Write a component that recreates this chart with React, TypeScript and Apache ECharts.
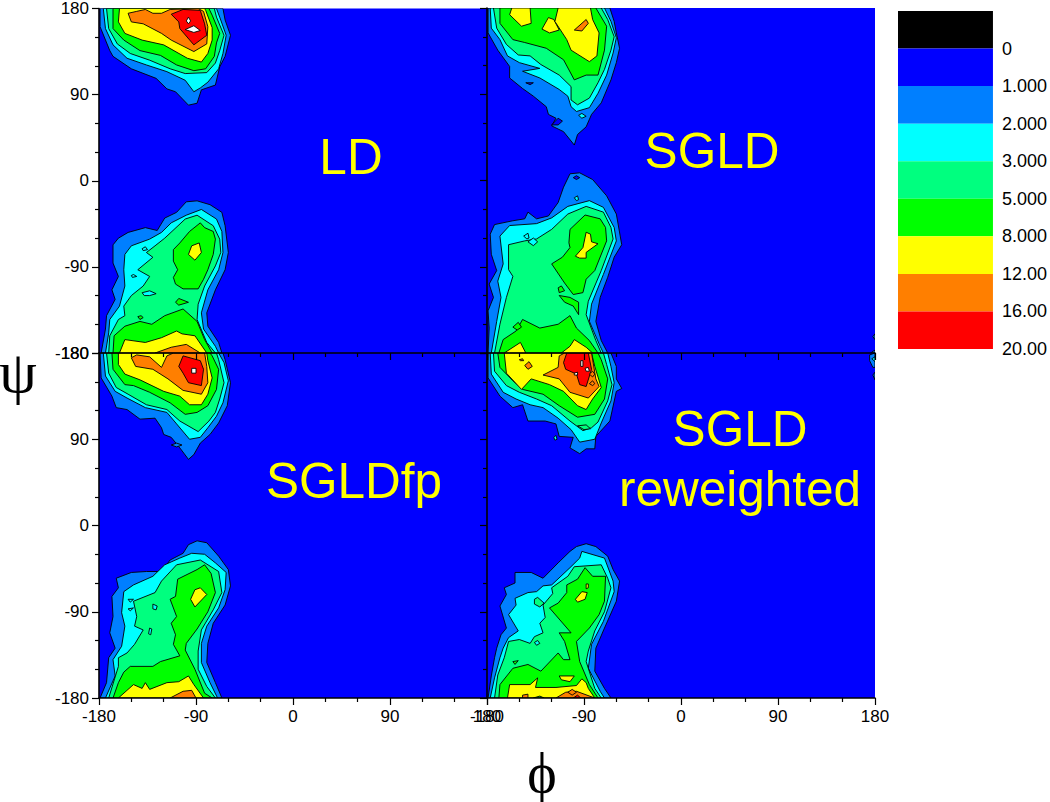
import React, { useEffect, useRef } from "react";
import * as echarts from "echarts";

type Poly = [number, number[][]];

const levelLabels = ["0", "1.000", "2.000", "3.000", "5.000", "8.000", "12.00", "16.00", "20.00"];
const levelValues = [0, 1, 2, 3, 5, 8, 12, 16, 20];
const legendColors = ["#000000", "#0000ff", "#007fff", "#00ffff", "#00ff7f", "#00ff00", "#ffff00", "#ff7f00", "#ff0000"];
const xTickLabels = [-180, -90, 0, 90, 180];

// Contour outlines, [level, [[phi, psi], ...]] in degrees.
const ldPoly: Poly[] = [
  [1, [[-179,180],[-179,161],[-170,136],[-167,130],[-150,117],[-127,107],[-117,96],[-109,93],[-97,79],[-89,81],[-85,95],[-72,100],[-68,119],[-63,130],[-58,152],[-63,168],[-65,180]]],
  [2, [[-176,180],[-174,159],[-167,142],[-154,128],[-136,121],[-117,114],[-100,105],[-92,93],[-86,97],[-79,103],[-69,117],[-65,133],[-62,152],[-68,171],[-71,180]]],
  [3, [[-173,180],[-171,159],[-163,143],[-151,133],[-133,126],[-114,117],[-100,112],[-80,113],[-72,123],[-68,136],[-64,152],[-71,171],[-73,180]]],
  [5, [[-167,180],[-167,159],[-157,147],[-142,136],[-123,131],[-108,121],[-92,115],[-81,117],[-73,130],[-71,144],[-68,154],[-75,173],[-78,180]]],
  [8, [[-161,180],[-162,166],[-156,154],[-140,147],[-120,142],[-98,128],[-85,124],[-79,133],[-75,147],[-75,160],[-81,178],[-82,180]]],
  [12, [[-153,175],[-150,166],[-139,164],[-122,154],[-113,147],[-92,135],[-80,143],[-79,161],[-83,177],[-88,180],[-114,179],[-122,175],[-130,175],[-137,179],[-145,177]]],
  [16, [[-113,174],[-106,166],[-105,159],[-92,142],[-80,152],[-82,164],[-86,178],[-102,179]]],
  [20, [[-97,171],[-95,167],[-97,164],[-99,167]]],
  [20, [[-100,158],[-92,162],[-86,157],[-92,155]]],
  // lower lobe
  [1, [[-178,-180],[-174,-155],[-173,-141],[-165,-124],[-168,-114],[-162,-100],[-167,-86],[-167,-67],[-162,-60],[-153,-54],[-137,-49],[-126,-52],[-119,-39],[-108,-33],[-99,-22],[-89,-21],[-77,-25],[-66,-33],[-63,-47],[-60,-75],[-63,-93],[-72,-114],[-80,-138],[-79,-152],[-69,-169],[-66,-180]]],
  [2, [[-174,-180],[-171,-159],[-170,-145],[-161,-131],[-156,-110],[-157,-93],[-156,-77],[-150,-68],[-133,-61],[-122,-54],[-113,-44],[-99,-36],[-85,-30],[-71,-40],[-66,-53],[-65,-75],[-69,-93],[-79,-114],[-85,-138],[-83,-155],[-72,-173],[-69,-180]]],
  [3, [[-171,-180],[-170,-162],[-162,-145],[-156,-141],[-157,-131],[-150,-120],[-139,-110],[-133,-100],[-144,-93],[-130,-80],[-136,-75],[-128,-68],[-119,-60],[-100,-40],[-89,-36],[-74,-47],[-68,-61],[-67,-75],[-72,-89],[-82,-110],[-88,-129],[-89,-145],[-80,-169],[-72,-180]]],
  [5, [[-167,-180],[-166,-162],[-156,-152],[-142,-147],[-131,-150],[-119,-141],[-102,-134],[-89,-147],[-82,-166],[-75,-180]]],
  [5, [[-111,-84],[-111,-72],[-105,-65],[-96,-53],[-86,-44],[-82,-49],[-74,-53],[-72,-61],[-74,-77],[-79,-93],[-83,-103],[-88,-113],[-102,-113],[-109,-108],[-111,-101],[-107,-93]]],
  [5, [[-109,-127],[-106,-123],[-97,-127],[-106,-130]]],
  [8, [[-161,-180],[-156,-166],[-137,-169],[-122,-164],[-108,-157],[-103,-160],[-91,-162],[-80,-180]]],
  [8, [[-97,-77],[-94,-68],[-87,-65],[-85,-75],[-91,-83]]],
  [12, [[-128,-180],[-113,-174],[-99,-171],[-86,-180]]],
  [2, [[-140,-71],[-137,-69],[-135,-72],[-139,-73]]],
  [2, [[-150,-99],[-148,-98],[-145,-100],[-149,-101]]],
  [2, [[-140,-117],[-133,-115],[-127,-118],[-133,-120],[-138,-120]]],
  [5, [[-144,-142],[-141,-141],[-139,-143],[-142,-145]]],
];

const sgldPoly: Poly[] = [
  [1, [[-179,180],[-179,154],[-170,136],[-159,119],[-159,107],[-147,96],[-137,88],[-125,77],[-123,69],[-116,65],[-120,57],[-109,51],[-99,37],[-96,48],[-88,56],[-83,69],[-74,81],[-65,105],[-60,123],[-57,138],[-60,154],[-62,166],[-66,180]]],
  [2, [[-177,180],[-176,159],[-168,147],[-161,130],[-150,123],[-131,117],[-147,114],[-131,107],[-113,95],[-105,88],[-102,77],[-97,72],[-85,76],[-77,91],[-69,110],[-63,133],[-60,149],[-65,166],[-71,180]]],
  [3, [[-174,180],[-171,159],[-162,142],[-151,131],[-140,130],[-130,121],[-113,110],[-102,98],[-102,84],[-96,79],[-85,86],[-77,102],[-71,116],[-65,136],[-62,150],[-68,168],[-74,180]]],
  [5, [[-168,180],[-168,164],[-156,147],[-145,144],[-125,138],[-109,126],[-99,105],[-88,110],[-77,110],[-71,136],[-69,161],[-79,180]]],
  [8, [[-157,180],[-159,173],[-148,161],[-139,164],[-140,180]]],
  [8, [[-123,170],[-118,168],[-113,157],[-122,154],[-129,158]]],
  [8, [[-114,180],[-117,166],[-106,147],[-102,136],[-85,124],[-78,130],[-76,154],[-82,168],[-84,180]]],
  [12, [[-99,157],[-88,168],[-86,164],[-92,156]]],
  [0, [[-120,58],[-114,65],[-110,62],[-114,58]]],
  [0, [[-144,102],[-137,102],[-140,100]]],
  [2, [[-95,68],[-92,70],[-88,67],[-92,65]]],
  // lower lobe
  [1, [[-179,-180],[-178,-154],[-179,-136],[-174,-122],[-178,-108],[-171,-94],[-176,-77],[-177,-56],[-173,-46],[-156,-42],[-145,-40],[-142,-33],[-134,-40],[-123,-37],[-114,-23],[-109,-7],[-103,7],[-94,8],[-82,1],[-69,-16],[-60,-35],[-55,-67],[-62,-80],[-68,-101],[-75,-122],[-79,-147],[-74,-167],[-68,-180]]],
  [2, [[-176,-180],[-171,-147],[-167,-122],[-170,-105],[-165,-87],[-168,-58],[-159,-47],[-134,-45],[-120,-39],[-105,-27],[-85,-21],[-72,-28],[-62,-49],[-60,-63],[-72,-98],[-83,-129],[-85,-147],[-75,-173],[-72,-180]]],
  [3, [[-173,-180],[-168,-150],[-162,-122],[-156,-100],[-160,-93],[-160,-67],[-145,-63],[-134,-61],[-120,-51],[-105,-35],[-88,-27],[-72,-33],[-65,-49],[-63,-61],[-74,-94],[-86,-126],[-88,-140],[-79,-167],[-74,-180]]],
  [5, [[-169,-180],[-165,-166],[-153,-157],[-147,-145],[-131,-154],[-114,-150],[-103,-141],[-97,-154],[-85,-167],[-77,-180]]],
  [5, [[-104,-65],[-103,-51],[-89,-36],[-75,-40],[-70,-49],[-69,-63],[-80,-94],[-88,-103],[-91,-117],[-100,-119],[-108,-107],[-120,-87],[-110,-80],[-103,-70]]],
  [5, [[-113,-120],[-103,-122],[-95,-127],[-95,-140],[-100,-131],[-108,-127]]],
  [5, [[-156,-153],[-151,-148],[-148,-153],[-152,-156]]],
  [5, [[-114,-112],[-111,-110],[-108,-115],[-113,-117]]],
  [8, [[-164,-180],[-149,-169],[-144,-180]]],
  [8, [[-111,-180],[-103,-173],[-99,-166],[-88,-174],[-82,-180]]],
  [8, [[-98,-79],[-91,-70],[-88,-54],[-84,-56],[-83,-64],[-77,-66],[-88,-75],[-88,-81],[-94,-81]]],
  [2, [[-146,-58],[-142,-55],[-141,-60],[-143,-61]]],
  [2, [[-142,-64],[-137,-60],[-133,-64],[-137,-68]]],
  [0, [[-100,3],[-97,5],[-94,3],[-97,1]]],
  [2, [[-99,-18],[-96,-16],[-95,-20],[-97,-21]]],
  [1, [[180,-177],[177,-179],[177,-180],[180,-180]]],
  [1, [[180,-160],[178,-163],[180,-166]]],
];

const sgldfpPoly: Poly[] = [
  [1, [[-179,180],[-178,154],[-168,135],[-164,123],[-154,121],[-142,111],[-128,112],[-122,102],[-120,95],[-113,92],[-105,81],[-97,69],[-92,74],[-86,86],[-77,95],[-69,107],[-61,125],[-58,149],[-63,173],[-65,180]]],
  [1, [[-113,84],[-108,86],[-103,84],[-108,82]]],
  [2, [[-176,180],[-174,156],[-165,140],[-154,133],[-137,123],[-117,118],[-108,106],[-96,90],[-86,92],[-79,102],[-71,114],[-65,128],[-60,151],[-64,170],[-69,180]]],
  [3, [[-173,180],[-171,159],[-164,144],[-153,137],[-136,126],[-117,121],[-105,109],[-88,98],[-78,109],[-72,118],[-68,132],[-64,149],[-69,173],[-71,180]]],
  [5, [[-168,180],[-167,163],[-156,147],[-148,146],[-133,139],[-114,128],[-100,116],[-89,118],[-79,125],[-71,142],[-69,163],[-75,177],[-77,180]]],
  [8, [[-162,180],[-162,168],[-156,158],[-142,152],[-120,140],[-105,135],[-96,126],[-85,126],[-79,137],[-75,154],[-79,172],[-80,180]]],
  [12, [[-150,175],[-146,166],[-130,163],[-116,153],[-102,141],[-85,137],[-79,149],[-80,166],[-82,180],[-111,180],[-117,177],[-122,165],[-128,171],[-133,176],[-145,178]]],
  [16, [[-106,166],[-102,177],[-86,172],[-83,163],[-85,146],[-97,149],[-102,159]]],
  [20, [[-94,164],[-90,164],[-90,159],[-94,159]]],
  // lower lobe
  [1, [[-179,-180],[-173,-164],[-171,-138],[-165,-128],[-170,-112],[-167,-95],[-168,-74],[-162,-65],[-164,-55],[-150,-49],[-136,-48],[-122,-48],[-114,-36],[-102,-29],[-97,-20],[-89,-16],[-80,-18],[-69,-32],[-60,-46],[-58,-63],[-63,-83],[-74,-102],[-79,-123],[-80,-143],[-72,-164],[-66,-180]]],
  [2, [[-174,-180],[-165,-157],[-167,-140],[-159,-126],[-156,-105],[-159,-91],[-157,-69],[-148,-62],[-130,-53],[-119,-41],[-105,-34],[-94,-29],[-82,-30],[-72,-39],[-62,-49],[-63,-67],[-69,-86],[-80,-105],[-85,-123],[-85,-143],[-77,-164],[-70,-180]]],
  [3, [[-171,-180],[-162,-147],[-162,-138],[-154,-133],[-147,-124],[-139,-109],[-147,-105],[-145,-95],[-148,-79],[-128,-70],[-122,-58],[-108,-41],[-86,-36],[-69,-48],[-66,-70],[-74,-88],[-85,-109],[-88,-131],[-88,-150],[-80,-168],[-72,-180]]],
  [5, [[-167,-180],[-162,-164],[-157,-153],[-151,-147],[-130,-147],[-123,-142],[-105,-136],[-111,-124],[-109,-114],[-113,-102],[-108,-95],[-114,-77],[-109,-74],[-107,-56],[-89,-46],[-82,-41],[-76,-50],[-72,-70],[-79,-90],[-89,-108],[-99,-123],[-100,-130],[-91,-150],[-82,-175],[-75,-180]]],
  [8, [[-162,-180],[-148,-166],[-140,-170],[-137,-164],[-133,-171],[-117,-164],[-106,-163],[-97,-157],[-92,-166],[-83,-180]]],
  [8, [[-95,-77],[-91,-67],[-86,-65],[-80,-72],[-91,-85]]],
  [12, [[-114,-180],[-102,-173],[-94,-172],[-90,-180]]],
  [2, [[-153,-77],[-148,-77],[-151,-80]]],
  [2, [[-153,-87],[-148,-86],[-151,-89]]],
  [2, [[-130,-82],[-126,-84],[-127,-88],[-130,-87]]],
  [2, [[-133,-107],[-131,-108],[-132,-114],[-134,-113]]],
];

const reweightedPoly: Poly[] = [
  [1, [[-179,180],[-179,154],[-168,135],[-156,123],[-147,126],[-142,109],[-126,109],[-116,106],[-113,93],[-100,92],[-103,81],[-94,75],[-88,80],[-80,80],[-79,93],[-66,109],[-60,140],[-55,143],[-60,153],[-60,166],[-65,180]]],
  [2, [[-177,180],[-176,158],[-165,139],[-153,132],[-140,126],[-128,123],[-114,112],[-102,100],[-94,87],[-80,90],[-74,107],[-65,130],[-62,149],[-65,166],[-68,180]]],
  [3, [[-174,180],[-173,161],[-162,146],[-150,139],[-134,132],[-120,125],[-103,109],[-91,99],[-83,102],[-77,108],[-68,130],[-64,147],[-69,168],[-72,180]]],
  [5, [[-170,180],[-168,165],[-156,151],[-147,142],[-128,137],[-113,125],[-96,113],[-80,116],[-71,132],[-68,153],[-74,173],[-77,180]]],
  [8, [[-164,180],[-162,159],[-148,142],[-139,153],[-122,147],[-109,140],[-96,125],[-88,121],[-82,132],[-74,144],[-80,166],[-83,180]]],
  [12, [[-128,157],[-114,165],[-113,177],[-108,180],[-83,180],[-79,153],[-76,145],[-86,133],[-103,139],[-113,153]]],
  [16, [[-109,170],[-106,180],[-86,180],[-83,163],[-88,145],[-94,147],[-97,158],[-107,163]]],
  [12, [[-85,158],[-82,161],[-80,158],[-82,155]]],
  [12, [[-85,148],[-82,151],[-80,148],[-82,146]]],
  [12, [[-145,167],[-141,171],[-138,166],[-142,163]]],
  [12, [[-150,173],[-147,174],[-146,172],[-149,172]]],
  [20, [[-93,172],[-91,172],[-91,166],[-93,166]]],
  [20, [[-99,159],[-96,160],[-96,157],[-99,157]]],
  [20, [[-89,164],[-86,165],[-85,161],[-88,161]]],
  [3, [[-96,104],[-88,105],[-84,101],[-90,100]]],
  [2, [[-118,92],[-116,94],[-115,90],[-117,89]]],
  [1, [[180,180],[175,178],[175,172],[178,165],[180,165]]],
  [2, [[180,176],[177,174],[180,171]]],
  [1, [[180,160],[178,157],[180,152]]],
  // lower lobe
  [1, [[-179,-180],[-176,-157],[-173,-138],[-171,-128],[-167,-114],[-162,-107],[-168,-84],[-162,-72],[-164,-65],[-154,-60],[-154,-49],[-139,-49],[-128,-55],[-114,-39],[-103,-27],[-97,-22],[-88,-19],[-79,-22],[-68,-32],[-63,-46],[-57,-58],[-60,-79],[-71,-107],[-79,-128],[-80,-152],[-71,-170],[-65,-180]]],
  [2, [[-177,-180],[-173,-159],[-168,-138],[-165,-128],[-160,-117],[-151,-110],[-160,-93],[-153,-83],[-154,-76],[-142,-70],[-134,-69],[-128,-63],[-120,-62],[-103,-44],[-94,-34],[-92,-27],[-71,-34],[-63,-58],[-62,-69],[-72,-100],[-83,-124],[-86,-149],[-75,-173],[-71,-180]]],
  [3, [[-173,-180],[-170,-156],[-164,-138],[-160,-121],[-150,-119],[-140,-123],[-136,-116],[-128,-112],[-131,-102],[-126,-96],[-128,-83],[-119,-71],[-120,-65],[-105,-53],[-99,-43],[-74,-41],[-68,-55],[-65,-65],[-71,-90],[-80,-110],[-86,-131],[-88,-142],[-80,-170],[-74,-180]]],
  [5, [[-169,-180],[-168,-166],[-156,-149],[-142,-145],[-130,-152],[-114,-133],[-109,-140],[-103,-140],[-108,-121],[-113,-112],[-102,-112],[-122,-86],[-114,-81],[-106,-70],[-106,-62],[-96,-56],[-89,-44],[-82,-53],[-70,-53],[-71,-79],[-76,-93],[-85,-107],[-97,-121],[-94,-142],[-85,-166],[-77,-180]]],
  [8, [[-161,-180],[-159,-166],[-140,-166],[-133,-159],[-135,-169],[-116,-169],[-97,-167],[-92,-160],[-88,-164],[-86,-170],[-80,-180]]],
  [8, [[-113,-157],[-99,-157],[-103,-163],[-111,-161]]],
  [8, [[-98,-77],[-92,-69],[-87,-70],[-89,-77],[-96,-80]]],
  [8, [[-88,-61],[-86,-61],[-86,-65],[-88,-66]]],
  [12, [[-116,-180],[-107,-174],[-97,-173],[-80,-180]]],
  [12, [[-105,-174],[-101,-171],[-97,-174],[-101,-177]]],
  [12, [[-147,-177],[-142,-176],[-142,-180],[-147,-180]]],
  [16, [[-100,-180],[-96,-177],[-93,-180]]],
  [5, [[-137,-180],[-131,-178],[-127,-180]]],
  [3, [[-136,-77],[-133,-75],[-127,-81],[-131,-85],[-136,-82]]],
  [5, [[-156,-142],[-151,-141],[-154,-145]]],
  [2, [[-136,-122],[-133,-120],[-131,-123],[-134,-125]]],
];

const panelPolys = [ldPoly, sgldPoly, sgldfpPoly, reweightedPoly];
const panelNames = ["LD", "SGLD", "SGLDfp", "SGLD reweighted"];

const FONT = "'Liberation Sans', Arial, sans-serif";
const grids = [
  { left: 99, top: 8, width: 388, height: 345 },
  { left: 487, top: 8, width: 388, height: 345 },
  { left: 99, top: 353, width: 388, height: 345 },
  { left: 487, top: 353, width: 388, height: 345 },
];

function fillFor(level: number) {
  if (level === 20) return "#ffffff";
  const i = levelValues.indexOf(level);
  return legendColors[i + 1];
}

function makeOption() {
  const axisStyle = { show: true, onZero: false, lineStyle: { color: "#000", width: 1.6 } };
  const xAxes: any[] = [];
  const yAxes: any[] = [];
  const series: any[] = [];
  grids.forEach((_, i) => {
    xAxes.push({
      gridIndex: i, type: "value", min: -180, max: 180, interval: 90, position: "bottom", z: 10,
      axisLine: axisStyle,
      axisTick: { show: true, length: 7, lineStyle: { color: "#000", width: 1.2 } },
      minorTick: { show: true, splitNumber: 3, length: 4, lineStyle: { color: "#000", width: 1.2 } },
      splitLine: { show: false }, minorSplitLine: { show: false },
      axisLabel: { show: i >= 2, color: "#000", fontFamily: FONT, fontSize: 17, margin: 10, showMinLabel: true, showMaxLabel: true,
        formatter: (v: number) => (xTickLabels.includes(v) ? String(v) : "") },
    });
    yAxes.push({
      gridIndex: i, type: "value", min: -180, max: 180, interval: 90, position: "left", z: 10,
      axisLine: axisStyle,
      axisTick: { show: true, length: 7, lineStyle: { color: "#000", width: 1.2 } },
      minorTick: { show: true, splitNumber: 3, length: 4, lineStyle: { color: "#000", width: 1.2 } },
      splitLine: { show: false }, minorSplitLine: { show: false },
      axisLabel: { show: i % 2 === 0, color: "#000", fontFamily: FONT, fontSize: 17, margin: 10, showMinLabel: true, showMaxLabel: true },
    });
    const polys = panelPolys[i];
    series.push({
      type: "custom", name: panelNames[i], coordinateSystem: "cartesian2d", xAxisIndex: i, yAxisIndex: i,
      clip: true, silent: true, z: 2,
      data: polys.map((p) => [p[1][0][0], p[1][0][1]]),
      renderItem: (params: any, api: any) => {
        const p = polys[params.dataIndex];
        return {
          type: "polygon",
          shape: { points: p[1].map((c) => api.coord(c)) },
          style: { fill: fillFor(p[0]), stroke: "#000", lineWidth: 0.9, lineJoin: "round" },
        };
      },
    });
  });
  // colour key
  xAxes.push({ gridIndex: 4, type: "value", min: 0, max: 1, show: false });
  yAxes.push({
    gridIndex: 4, type: "value", min: 0, max: legendColors.length, interval: 1, inverse: true, position: "right",
    axisLine: { show: false }, axisTick: { show: false }, splitLine: { show: false },
    axisLabel: { color: "#000", fontFamily: FONT, fontSize: 18, margin: 9, showMinLabel: true, showMaxLabel: true,
      formatter: (v: number) => (v >= 1 ? levelLabels[v - 1] : "") },
  });
  series.push({
    type: "custom", coordinateSystem: "cartesian2d", xAxisIndex: 4, yAxisIndex: 4, silent: true,
    data: legendColors.map((_, i) => [0, i]),
    renderItem: (params: any, api: any) => {
      const i = params.dataIndex;
      const a = api.coord([0, i]);
      const b = api.coord([1, i + 1]);
      return { type: "rect", shape: { x: a[0], y: a[1], width: b[0] - a[0], height: b[1] - a[1] }, style: { fill: legendColors[i] } };
    },
  });

  const label = (text: string, x: number, y: number) => ({
    type: "text", x, y, z: 20,
    style: { text, fill: "#ffff00", font: `49.5px ${FONT}`, textAlign: "center", textVerticalAlign: "middle" },
  });
  return {
    animation: false,
    backgroundColor: "#ffffff",
    grid: [
      ...grids.map((g) => ({ ...g, show: true, backgroundColor: "#0000ff", borderWidth: 0, containLabel: false })),
      { left: 898, top: 11, width: 98, height: 338, show: false },
    ],
    xAxis: xAxes,
    yAxis: yAxes,
    series,
    graphic: [
      label("LD", 351, 156),
      label("SGLD", 712, 150),
      label("SGLDfp", 354, 480),
      label("SGLD", 740, 428),
      label("reweighted", 740, 488),
      { type: "text", x: 18, y: 372, z: 20, style: { text: "ψ", fill: "#000", font: "60px 'Liberation Serif', serif", textAlign: "center", textVerticalAlign: "middle" } },
      { type: "text", x: 542, y: 773, z: 20, style: { text: "ϕ", fill: "#000", font: "56px 'Liberation Serif', serif", textAlign: "center", textVerticalAlign: "middle" } },
    ],
  };
}

export default function App() {
  const ref = useRef<HTMLDivElement>(null);
  useEffect(() => {
    document.body.style.margin = "0";
    const chart = echarts.init(ref.current!, undefined, { renderer: "svg" });
    chart.setOption(makeOption() as any);
    return () => chart.dispose();
  }, []);
  return <div ref={ref} style={{ width: 1050, height: 802 }} />;
}
